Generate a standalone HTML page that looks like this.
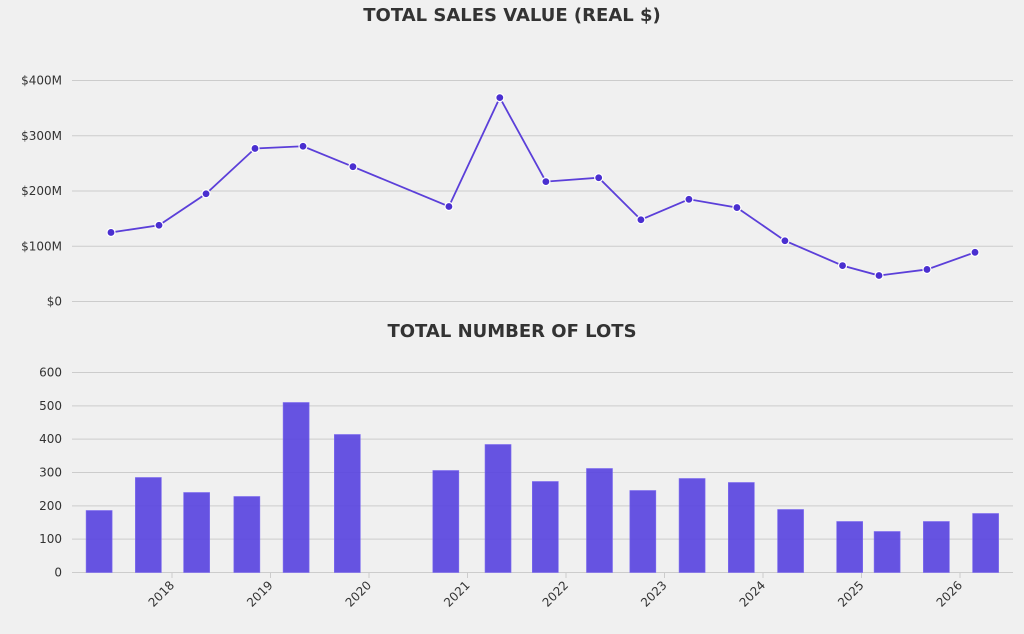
<!DOCTYPE html>
<html><head><meta charset="utf-8"><style>
body{margin:0;background:#f0f0f0;}
svg{display:block;font-family:"DejaVu Sans","Liberation Sans",sans-serif;}
</style></head><body>
<svg id="c" width="1024" height="634" viewBox="0 0 1024 634">
<rect width="1024" height="634" fill="#f0f0f0"/>
<text x="512" y="21" text-anchor="middle" font-size="18" font-weight="bold" fill="#333">TOTAL SALES VALUE (REAL $)</text>
<text x="512" y="337" text-anchor="middle" font-size="18" font-weight="bold" fill="#333">TOTAL NUMBER OF LOTS</text>
<g id="topg"></g><g id="botg"></g>
</svg>
<script>
const dates=[2017.26,2017.76,2018.25,2018.76,2019.26,2019.78,2020.78,2021.31,2021.79,2022.34,2022.78,2023.28,2023.78,2024.28,2024.88,2025.26,2025.76,2026.26];
const sales=[125,138,195,277,281,244,172,369,217,224,148,185,170,110,65,47,58,89];
const lots=[186,285,240,228,510,414,306,384,273,312,246,282,270,189,153,123,153,177];
const salesTicks=[0,100,200,300,400];
const salesTickLabels=["$0","$100M","$200M","$300M","$400M"];
const lotTicks=[0,100,200,300,400,500,600];
const years=[2018,2019,2020,2021,2022,2023,2024,2025,2026];
const NS="http://www.w3.org/2000/svg";
function mk(p,t,a){const e=document.createElementNS(NS,t);for(const k in a)e.setAttribute(k,a[k]);p.appendChild(e);return e;}
const gTop=document.getElementById('topg'),gBot=document.getElementById('botg');
const xb=d=>172+(d-2018)*98.5;
const d0=dates[0],d1=dates[dates.length-1];
const xt=d=>111+(d-d0)*(975-111)/(d1-d0);
const yt=v=>301.5-v*0.5525;
const yb=v=>572.5-v*(200/600);
salesTicks.forEach((t,i)=>{
 const l=mk(gTop,'line',{x1:72,x2:1013,y1:yt(t),y2:yt(t),stroke:'#ccc','stroke-width':1});
 
 
 const tx=mk(gTop,'text',{x:62,y:yt(t)+4,'text-anchor':'end','font-size':12,fill:'#333'});
 tx.textContent=salesTickLabels[i];
 
 
});
const pts=dates.map((d,i)=>xt(d)+','+yt(sales[i])).join(' ');
const pl=mk(gTop,'polyline',{points:pts,fill:'none',stroke:'#5b3fd9','stroke-width':1.8});


dates.forEach((d,i)=>{
 const c=mk(gTop,'circle',{cx:xt(d),cy:yt(sales[i]),r:4,fill:'#4a2fd0',stroke:'#fff','stroke-width':1.2});
 
 
});
lotTicks.forEach(t=>{
 const l=mk(gBot,'line',{x1:72,x2:1013,y1:yb(t),y2:yb(t),stroke:'#ccc','stroke-width':1});
 
 
 const tx=mk(gBot,'text',{x:62,y:yb(t)+4,'text-anchor':'end','font-size':12,fill:'#333'});
 tx.textContent=t;
 
 
});
dates.forEach((d,i)=>{
 const r=mk(gBot,'rect',{x:xb(d)-13,y:yb(lots[i]),width:26,height:yb(0)-yb(lots[i]),fill:'#5a45e0','fill-opacity':0.92,stroke:'#7d6cf0','stroke-width':0.6});
 
 
});
years.forEach(y=>{
 const x=xb(y);
 const l=mk(gBot,'line',{x1:x,x2:x,y1:573,y2:578,stroke:'#ccc'});
 
 
 const tx=mk(gBot,'text',{x:x+3,y:586,'text-anchor':'end','font-size':12,fill:'#333',transform:`rotate(-45 ${x+3} 586)`});
 tx.textContent=y;
 
 
});
</script>
</body></html>
